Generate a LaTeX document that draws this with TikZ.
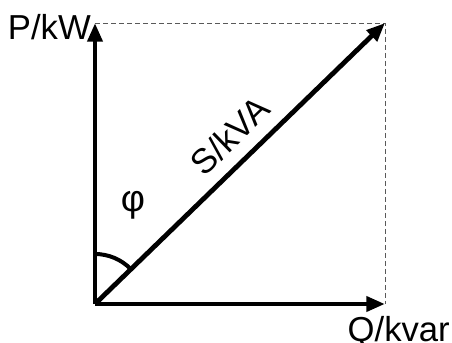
\documentclass[tikz,border=0pt]{standalone}
\usepackage{fontspec}
\setmainfont{Liberation Sans}
\usetikzlibrary{arrows.meta,calc}

\tikzset{
  vec/.style={line width=3.6pt,-{Triangle[length=14pt,width=11pt]}},
  guide/.style={gray!70!black,line width=0.6pt,dash pattern=on 4pt off 2pt},
  lbl/.style={font=\fontsize{26}{30}\selectfont,inner sep=0pt}
}

\begin{document}
\begin{tikzpicture}[x=0.75pt,y=0.75pt]
    \useasboundingbox (0,0) rectangle (452,342);
    \coordinate (O) at (95,38);
    \coordinate (P) at (95,319);
    \coordinate (Q) at (385,38);
    \coordinate (S) at (385,319);
    % dashed projections
    \draw[guide] (P) -- (S) -- (Q);
    % axes and apparent power
    \draw[vec] (O) -- (P);
    \draw[vec] (O) -- (Q);
    \draw[vec] (O) -- (S) node[lbl,pos=0.53,sloped,above=9pt] {S/kVA};
    % angle
    \draw[line width=3pt] ($(O)+(0,50)$) arc[start angle=90,end angle=44.2,radius=50];
    \node[lbl,font=\fontsize{28}{30}\selectfont] (phi) at (133,137) {φ};
    \node[lbl,anchor=east] (Plbl) at (91,315) {P/kW};
    \node[lbl,anchor=north east] (Qlbl) at (450,26) {Q/kvar};
  \end{tikzpicture}
\end{document}
